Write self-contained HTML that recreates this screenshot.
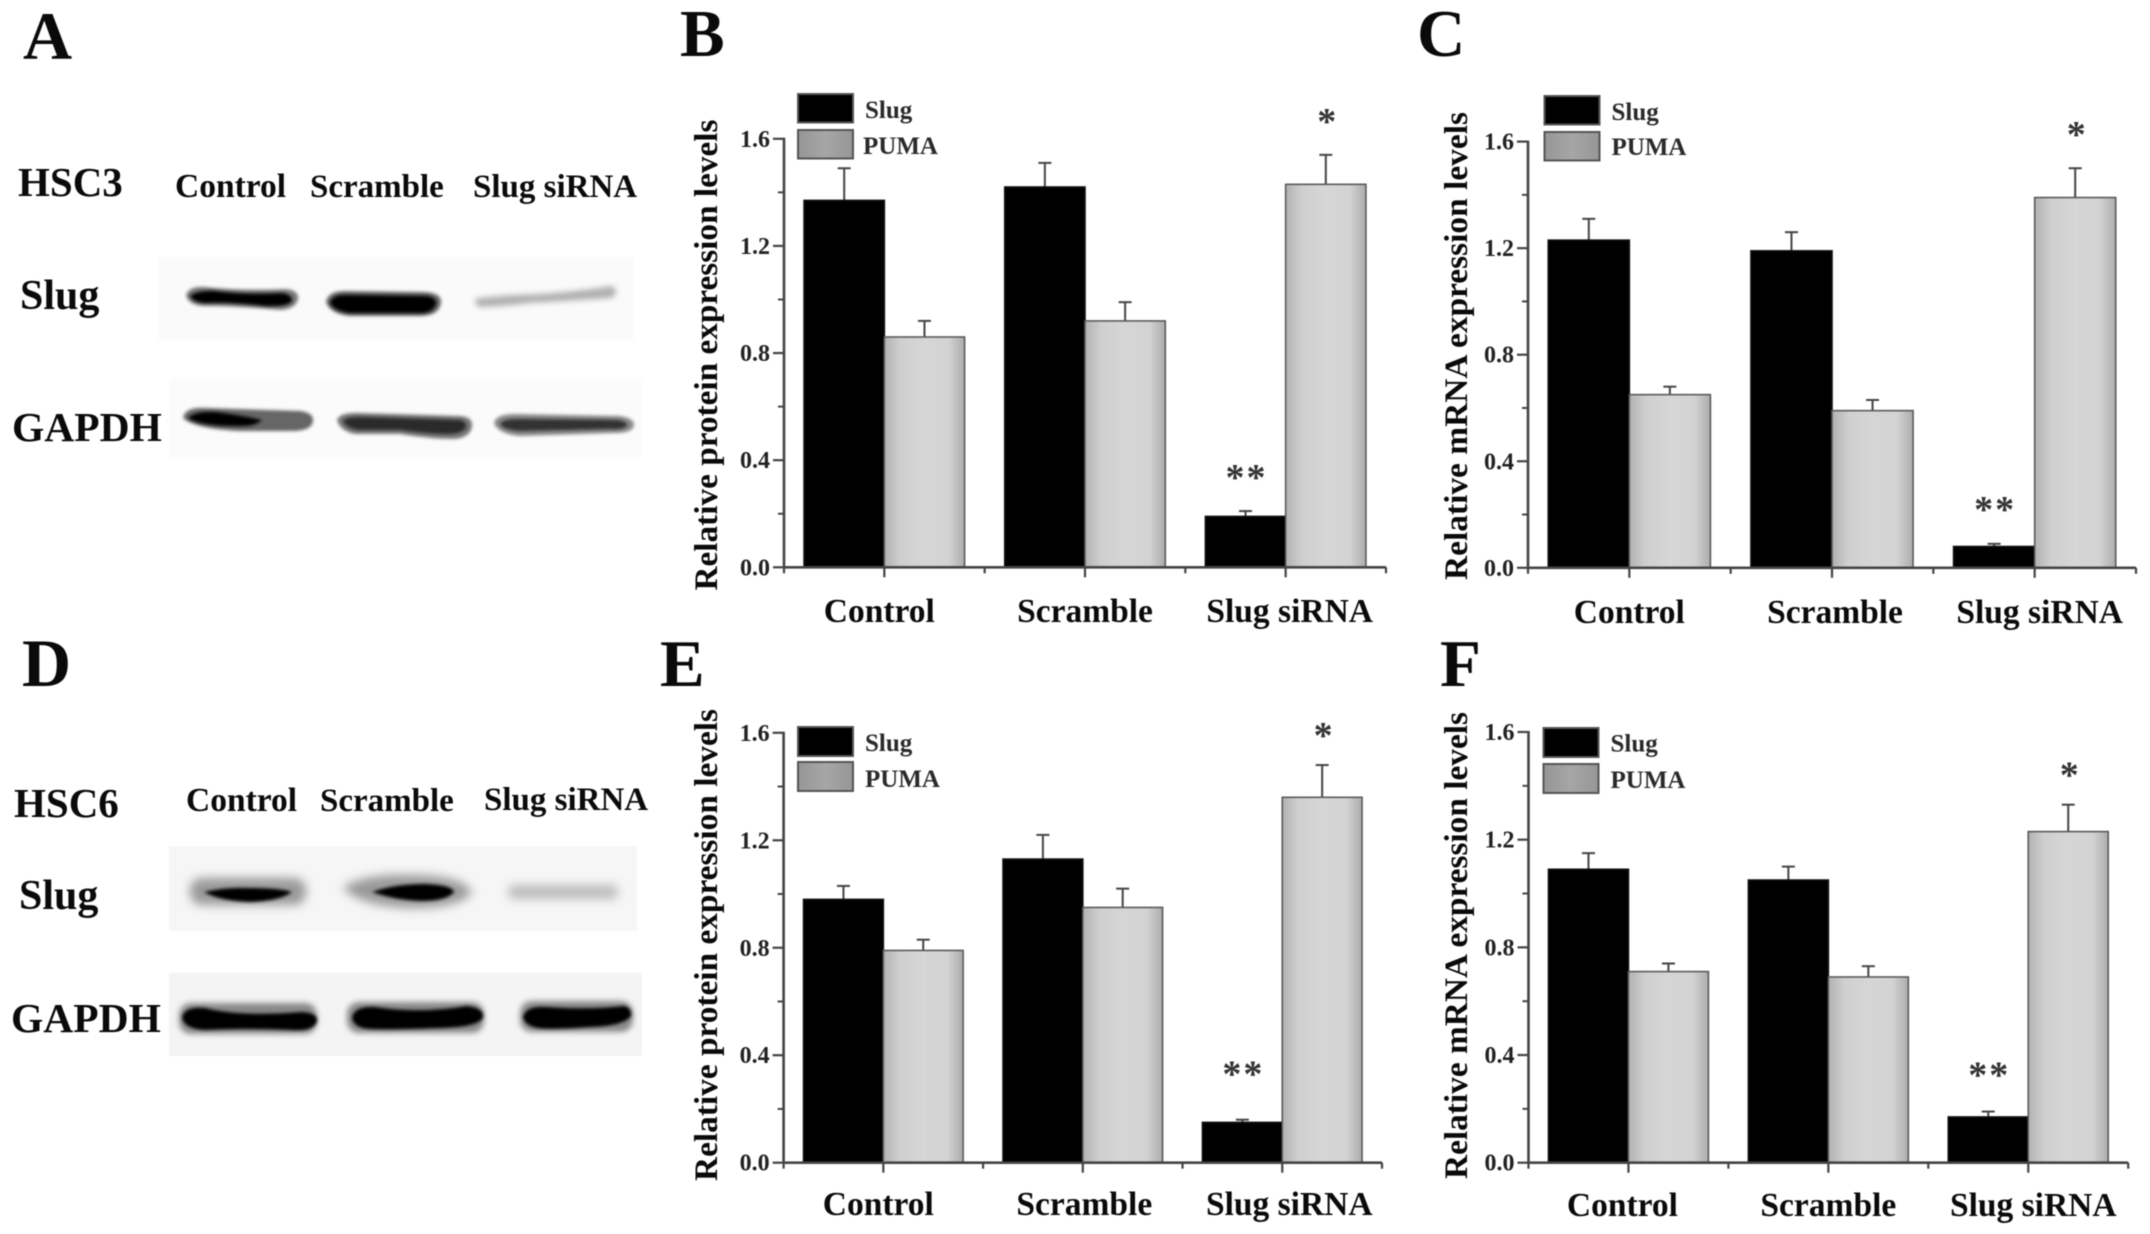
<!DOCTYPE html>
<html lang="en">
<head>
<meta charset="utf-8">
<title>Slug and PUMA expression in HSC3 and HSC6 cells</title>
<style>
html,body{margin:0;padding:0;background:#fff;width:2150px;height:1234px;overflow:hidden}
svg{display:block;position:absolute;left:0;top:0;filter:blur(0.5px)}
text{font-family:"Liberation Serif",serif;font-weight:bold;fill:#0a0a0a}
</style>
</head>
<body>
<svg id="figure" xmlns="http://www.w3.org/2000/svg" width="2150" height="1234" viewBox="0 0 2150 1234">
<defs>
<filter id="blurS" x="-20%" y="-60%" width="140%" height="220%"><feGaussianBlur stdDeviation="1.6"/></filter>
<filter id="blurM" x="-20%" y="-80%" width="140%" height="260%"><feGaussianBlur stdDeviation="3"/></filter>
<filter id="blurL" x="-20%" y="-100%" width="140%" height="300%"><feGaussianBlur stdDeviation="5"/></filter>
<linearGradient id="pumaFill" x1="0" y1="0" x2="1" y2="0">
<stop offset="0" stop-color="#b2b2b2"/><stop offset="0.2" stop-color="#cfcfcf"/><stop offset="0.5" stop-color="#d6d6d6"/><stop offset="0.8" stop-color="#d3d3d3"/><stop offset="1" stop-color="#acacac"/>
</linearGradient>
<linearGradient id="legendFill" x1="0" y1="0" x2="1" y2="0">
<stop offset="0" stop-color="#969696"/><stop offset="0.5" stop-color="#a6a6a6"/><stop offset="1" stop-color="#969696"/>
</linearGradient>
</defs>
<rect x="0" y="0" width="2150" height="1234" fill="#ffffff"/>

<g>
<text x="23" y="59" font-size="68">A</text>
<text x="18" y="196" font-size="41">HSC3</text>
<text x="175" y="197" font-size="33.5">Control</text>
<text x="310" y="197" font-size="33">Scramble</text>
<text x="473" y="197" font-size="33">Slug siRNA</text>
<text x="20" y="309" font-size="42">Slug</text>
<text x="12" y="441" font-size="41.5">GAPDH</text>
<rect x="158" y="257" width="475" height="84" fill="#fafafa" filter="url(#blurS)"/>
<rect x="169" y="378" width="473" height="79" fill="#fbfbfb" filter="url(#blurS)"/>
<g>
<path d="M186 296 Q188 286 205 287 Q240 291 285 289 Q299 290 298 299 Q296 309 280 310 Q240 306 205 306 Q190 306 186 296Z" fill="#777" filter="url(#blurS)"/>
<path d="M190 296 Q198 290 215 291 Q245 295 282 293 Q293 295 292 301 Q288 307 265 306 Q230 302 205 303 Q193 302 190 296Z" fill="#000" filter="url(#blurS)"/>
</g>
<g>
<path d="M326 302 Q328 291 345 291 L425 292 Q442 293 441 303 Q439 316 420 316 L350 316 Q330 314 326 302Z" fill="#666" filter="url(#blurS)"/>
<path d="M330 303 Q332 295 345 295 L425 296 Q437 297 436 304 Q433 313 420 313 L350 313 Q334 311 330 303Z" fill="#000" filter="url(#blurS)"/>
</g>
<path d="M474 299 Q500 295 540 294 Q580 291 612 286 Q620 291 612 298 Q570 301 530 303 Q500 307 478 307Z" fill="#b0b0b0" filter="url(#blurM)"/>
<g>
<path d="M183 418 Q185 407 205 408 L300 411 Q314 413 313 421 Q312 430 295 431 L240 431 Q195 429 183 418Z" fill="#666" filter="url(#blurS)"/>
<path d="M188 418 Q195 411 215 412 Q240 415 262 420 Q255 427 235 426 Q200 426 188 418Z" fill="#000" filter="url(#blurS)"/>
</g>
<g>
<path d="M337 420 Q340 412 360 413 L460 416 Q473 417 472 426 Q471 437 455 439 Q430 439 400 434 L355 434 Q340 431 337 420Z" fill="#777" filter="url(#blurS)"/>
<path d="M343 421 Q346 417 360 417 L460 420 Q467 422 466 427 Q464 433 450 434 Q430 434 400 430 L358 430 Q346 428 343 421Z" fill="#2c2c2c" filter="url(#blurS)"/>
</g>
<g>
<path d="M494 423 Q496 414 515 414 L620 416 Q634 418 634 425 Q633 433 615 433 L520 436 Q498 434 494 423Z" fill="#888" filter="url(#blurS)"/>
<path d="M500 424 Q503 419 518 419 L618 420 Q628 422 627 426 Q622 430 610 429 L520 431 Q504 430 500 424Z" fill="#333" filter="url(#blurS)"/>
</g>
</g>

<g>
<text x="22" y="686" font-size="68">D</text>
<text x="14" y="817" font-size="41">HSC6</text>
<text x="186" y="811" font-size="33.5">Control</text>
<text x="320" y="811" font-size="33">Scramble</text>
<text x="484" y="810" font-size="33">Slug siRNA</text>
<text x="19" y="909" font-size="42">Slug</text>
<text x="11" y="1032" font-size="41.5">GAPDH</text>
<rect x="169" y="846" width="468" height="85" fill="#f6f6f6"/>
<rect x="169" y="973" width="473" height="83" fill="#f4f4f4"/>
<g>
<rect x="190" y="878" width="116" height="27" rx="12" fill="#999" filter="url(#blurL)"/>
<path d="M204 892 Q225 887 250 888 Q280 888 292 892 Q280 901 250 902 Q220 901 204 892Z" fill="#000" filter="url(#blurS)"/>
</g>
<g>
<path d="M343 888 Q360 874 410 875 Q462 875 472 892 Q462 908 410 908 Q360 906 343 888Z" fill="#999" filter="url(#blurL)"/>
<path d="M372 892 Q395 884 425 884 Q452 885 454 892 Q447 901 420 901 Q395 900 372 892Z" fill="#000" filter="url(#blurS)"/>
</g>
<rect x="508" y="885" width="110" height="14" rx="6" fill="#bcbcbc" filter="url(#blurL)"/>
<g>
<rect x="179" y="1003" width="138" height="31" rx="12" fill="#888" filter="url(#blurM)"/>
<path d="M182 1018 Q184 1006 205 1008 Q240 1017 302 1012 Q318 1013 317 1021 Q314 1032 290 1030 Q245 1028 205 1030 Q185 1029 182 1018Z" fill="#000" filter="url(#blurS)"/>
</g>
<g>
<rect x="347" y="1002" width="137" height="31" rx="12" fill="#888" filter="url(#blurM)"/>
<path d="M352 1018 Q354 1006 375 1007 Q420 1014 467 1006 Q484 1008 483 1017 Q480 1027 440 1028 Q390 1030 370 1029 Q354 1028 352 1018Z" fill="#000" filter="url(#blurS)"/>
</g>
<g>
<rect x="520" y="1001" width="113" height="31" rx="12" fill="#888" filter="url(#blurM)"/>
<path d="M523 1017 Q526 1006 545 1007 Q590 1010 624 1006 Q632 1008 631 1016 Q624 1026 590 1027 Q550 1030 538 1028 Q525 1026 523 1017Z" fill="#000" filter="url(#blurS)"/>
</g>
</g>

<text x="680" y="56" font-size="67">B</text>
<text x="1417" y="56" font-size="67">C</text>
<text x="660" y="686" font-size="67">E</text>
<text x="1440" y="686" font-size="67">F</text>
<g id="charts"></g>
</svg>

<script>
const categories = ['Control', 'Scramble', 'Slug siRNA'];
const legendLabels = ['Slug', 'PUMA'];
const yTickValues = [0, 0.4, 0.8, 1.2, 1.6];
const yTickLabels = ['0.0', '0.4', '0.8', '1.2', '1.6'];
const yMinorTicks = [0.2, 0.6, 1.0, 1.4];
const slugMarks = ['', '', '**'];
const pumaMarks = ['', '', '*'];

const panelBSlug = [1.37, 1.42, 0.19];
const panelBSlugErr = [0.12, 0.09, 0.02];
const panelBPuma = [0.86, 0.92, 1.43];
const panelBPumaErr = [0.06, 0.07, 0.11];

const panelCSlug = [1.23, 1.19, 0.08];
const panelCSlugErr = [0.08, 0.07, 0.01];
const panelCPuma = [0.65, 0.59, 1.39];
const panelCPumaErr = [0.03, 0.04, 0.11];

const panelESlug = [0.98, 1.13, 0.15];
const panelESlugErr = [0.05, 0.09, 0.01];
const panelEPuma = [0.79, 0.95, 1.36];
const panelEPumaErr = [0.04, 0.07, 0.12];

const panelFSlug = [1.09, 1.05, 0.17];
const panelFSlugErr = [0.06, 0.05, 0.02];
const panelFPuma = [0.71, 0.69, 1.23];
const panelFPumaErr = [0.03, 0.04, 0.10];

const yMax = 1.6;
const SVG_NS = 'http://www.w3.org/2000/svg';
const chartsRoot = document.getElementById('charts');

function make(tag, parent, attrs) {
  const el = document.createElementNS(SVG_NS, tag);
  for (const k in attrs) el.setAttribute(k, attrs[k]);
  parent.appendChild(el);
  return el;
}

function drawPanel(p) {
  const root = make('g', chartsRoot, {});
  
  

  const xUnit = (p.xEnd - p.x0) / 6;
  const yScale = function (v) { return p.y0 - (v / yMax) * (p.y0 - p.yTop); };
  const groupCenter = function (i) { return p.x0 + xUnit * (2 * i + 1); };
  const barW = xUnit * 0.8;

  const series = [
    { name: 'slug', values: p.slug, errs: p.slugErr, marks: slugMarks, side: -1, gap: p.gapDouble },
    { name: 'puma', values: p.puma, errs: p.pumaErr, marks: pumaMarks, side: 1, gap: p.gapSingle }
  ];

  series.forEach(function (s) {
    s.values.forEach(function (v, i) {
      const left = s.side < 0 ? groupCenter(i) - barW : groupCenter(i);
      const mid = left + barW / 2;
      const top = yScale(v);
      const errTop = yScale(v + s.errs[i]);

      const stem = make('line', root, { x1: mid, x2: mid, y1: top, y2: errTop, stroke: '#444', 'stroke-width': 2 });
      
      

      const cap = make('line', root, { x1: mid - 6.5, x2: mid + 6.5, y1: errTop, y2: errTop, stroke: '#444', 'stroke-width': 2 });
      
      

      const bar = make('rect', root, {
        x: left, y: top, width: barW, height: p.y0 - top,
        fill: s.name === 'slug' ? '#000000' : 'url(#pumaFill)',
        stroke: s.name === 'slug' ? '#111' : '#5a5a5a', 'stroke-width': 1.6
      });
      
      

      if (s.marks[i]) {
        const mark = make('text', root, {
          x: mid + 1, y: errTop - s.gap + 17, 'text-anchor': 'middle',
          'font-size': 38, 'letter-spacing': s.marks[i].length > 1 ? 2 : 0
        });
        mark.style.fill = '#333';
        mark.textContent = s.marks[i];
        
        
      }
    });
  });

  const yAxis = make('line', root, { x1: p.x0, x2: p.x0, y1: p.yTop - 1, y2: p.y0 + 1, stroke: '#444', 'stroke-width': 2.6 });
  
  

  const xAxis = make('line', root, { x1: p.x0, x2: p.xEnd, y1: p.y0, y2: p.y0, stroke: '#444', 'stroke-width': 2.6 });
  
  

  yTickValues.forEach(function (v, i) {
    const y = yScale(v);
    const tick = make('line', root, { x1: p.x0 - 11, x2: p.x0, y1: y, y2: y, stroke: '#444', 'stroke-width': 2.2 });
    
    

    const label = make('text', root, { x: p.x0 - 14, y: y + 8, 'text-anchor': 'end', 'font-size': 24 });
    label.style.fill = '#222';
    label.textContent = yTickLabels[i];
    
    
  });

  yMinorTicks.forEach(function (v) {
    const y = yScale(v);
    const tick = make('line', root, { x1: p.x0 - 6, x2: p.x0, y1: y, y2: y, stroke: '#444', 'stroke-width': 2 });
    
    
  });

  for (let t = 0; t <= 6; t++) {
    const x = p.x0 + xUnit * t;
    const major = t % 2 === 1;
    const tick = make('line', root, { x1: x, x2: x, y1: p.y0, y2: p.y0 + (major ? 10 : 6), stroke: '#444', 'stroke-width': 2.2 });
    
    
  }

  categories.forEach(function (c, i) {
    const label = make('text', root, { x: groupCenter(i) + p.labelShift[i], y: p.labelY, 'text-anchor': 'middle', 'font-size': 33.5 });
    label.textContent = c;
    
    
  });

  const title = make('text', root, {
    x: 0, y: 0, 'font-size': 33, 'text-anchor': 'middle',
    textLength: p.titleLen, lengthAdjust: 'spacingAndGlyphs',
    transform: 'translate(' + p.titleX + ' ' + p.titleY + ') rotate(-90)'
  });
  title.textContent = p.title;
  
  

  legendLabels.forEach(function (name, i) {
    const box = make('rect', root, {
      x: p.legendX, y: p.legendY[i], width: 55, height: p.legendH,
      fill: i === 0 ? '#000000' : 'url(#legendFill)', stroke: '#555', 'stroke-width': 2
    });
    
    

    const text = make('text', root, { x: p.legendX + p.legendTextDx[i], y: p.legendBase[i], 'font-size': 25 });
    text.style.fill = '#2a2a2a';
    text.textContent = name;
    
    
  });
}

drawPanel({
  id: 'b', x0: 784, xEnd: 1386, y0: 567.3, yTop: 138.8,
  slug: panelBSlug, slugErr: panelBSlugErr, puma: panelBPuma, pumaErr: panelBPumaErr,
  gapDouble: 38, gapSingle: 38, labelShift: [-5, 0, 4], labelY: 622,
  title: 'Relative protein expression levels', titleX: 717, titleY: 355, titleLen: 471,
  legendX: 798, legendY: [94, 130], legendH: 28.5, legendTextDx: [67, 65], legendBase: [118, 154]
});
drawPanel({
  id: 'c', x0: 1528, xEnd: 2136, y0: 567.8, yTop: 141.6,
  slug: panelCSlug, slugErr: panelCSlugErr, puma: panelCPuma, pumaErr: panelCPumaErr,
  gapDouble: 39, gapSingle: 38, labelShift: [0, 3, 5], labelY: 623,
  title: 'Relative mRNA expression levels', titleX: 1467, titleY: 346, titleLen: 468,
  legendX: 1544.5, legendY: [96, 132], legendH: 28.5, legendTextDx: [67, 67], legendBase: [120, 155]
});
drawPanel({
  id: 'e', x0: 783.6, xEnd: 1382, y0: 1162.7, yTop: 732.8,
  slug: panelESlug, slugErr: panelESlugErr, puma: panelEPuma, pumaErr: panelEPumaErr,
  gapDouble: 50, gapSingle: 34, labelShift: [-5, 1.5, 7], labelY: 1215,
  title: 'Relative protein expression levels', titleX: 717, titleY: 945, titleLen: 472,
  legendX: 798, legendY: [727, 762], legendH: 29, legendTextDx: [67, 67], legendBase: [751, 787]
});
drawPanel({
  id: 'f', x0: 1528.5, xEnd: 2128.2, y0: 1162.7, yTop: 732,
  slug: panelFSlug, slugErr: panelFSlugErr, puma: panelFPuma, pumaErr: panelFPumaErr,
  gapDouble: 41, gapSingle: 34, labelShift: [-6, 0, 5], labelY: 1216,
  title: 'Relative mRNA expression levels', titleX: 1467, titleY: 945.5, titleLen: 467,
  legendX: 1543.5, legendY: [728, 764], legendH: 29, legendTextDx: [67, 67], legendBase: [751.5, 788]
});
</script>
</body>
</html>
